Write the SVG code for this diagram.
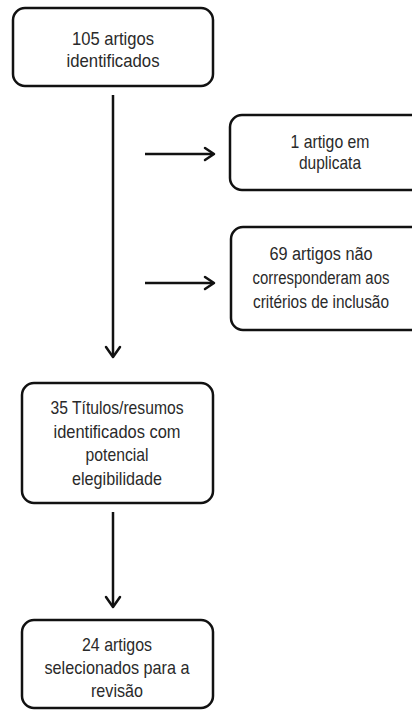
<svg xmlns="http://www.w3.org/2000/svg" width="412" height="711" viewBox="0 0 412 711">
<style>
.box{fill:#fff;stroke:#111;stroke-width:2.5}
.t{font-family:"Liberation Sans",Arial,sans-serif;font-size:19px;fill:#2a2a2a;text-anchor:middle}
.c{stroke:#111;stroke-width:2.5;fill:none}
.h{stroke:#111;stroke-width:2.5;fill:none;stroke-linecap:round;stroke-linejoin:round}
</style>
<rect width="412" height="711" fill="#fff"/>
<g id="connectors">
<line class="c" x1="113" y1="95" x2="113" y2="356"/>
<polyline class="h" points="106,347 113,357 120,347"/>
<line class="c" x1="145" y1="154" x2="213" y2="154"/>
<polyline class="h" points="205,148 214,154 205,160"/>
<line class="c" x1="145" y1="283" x2="213" y2="283"/>
<polyline class="h" points="205,277 214,283 205,289"/>
<line class="c" x1="113" y1="512" x2="113" y2="606"/>
<polyline class="h" points="106,597 113,607 120,597"/>
</g>
<g id="n1">
<rect class="box" x="13" y="8" width="200" height="78" rx="12"/>
<text class="t" x="113" y="45" textLength="82" lengthAdjust="spacingAndGlyphs">105 artigos</text>
<text class="t" x="113" y="67" textLength="93" lengthAdjust="spacingAndGlyphs">identificados</text>
</g>
<g id="n2">
<rect class="box" x="230" y="115" width="195" height="75" rx="12"/>
<text class="t" x="330" y="148" textLength="79" lengthAdjust="spacingAndGlyphs">1 artigo em</text>
<text class="t" x="330" y="169" textLength="62" lengthAdjust="spacingAndGlyphs">duplicata</text>
</g>
<g id="n3">
<rect class="box" x="231" y="227" width="195" height="103" rx="12"/>
<text class="t" transform="translate(321 260) scale(0.8 1)" x="0" y="0" textLength="129" lengthAdjust="spacingAndGlyphs">69 artigos  não</text>
<text class="t" transform="translate(321 284) scale(0.8 1)" x="0" y="0" textLength="171" lengthAdjust="spacingAndGlyphs">corresponderam aos</text>
<text class="t" transform="translate(321 308) scale(0.8 1)" x="0" y="0" textLength="170" lengthAdjust="spacingAndGlyphs">critérios de inclusão</text>
</g>
<g id="n4">
<rect class="box" x="22" y="383" width="191" height="120" rx="12"/>
<text class="t" x="117" y="414" textLength="133" lengthAdjust="spacingAndGlyphs">35 Títulos/resumos</text>
<text class="t" x="117" y="438" textLength="127" lengthAdjust="spacingAndGlyphs">identificados com</text>
<text class="t" x="117" y="461" textLength="63" lengthAdjust="spacingAndGlyphs">potencial</text>
<text class="t" x="117" y="485" textLength="90" lengthAdjust="spacingAndGlyphs">elegibilidade</text>
</g>
<g id="n5">
<rect class="box" x="22" y="620" width="191" height="88" rx="12"/>
<text class="t" x="117" y="651" textLength="70" lengthAdjust="spacingAndGlyphs">24 artigos</text>
<text class="t" x="117" y="674" textLength="145" lengthAdjust="spacingAndGlyphs">selecionados para a</text>
<text class="t" x="117" y="697" textLength="52" lengthAdjust="spacingAndGlyphs">revisão</text>
</g>
</svg>
